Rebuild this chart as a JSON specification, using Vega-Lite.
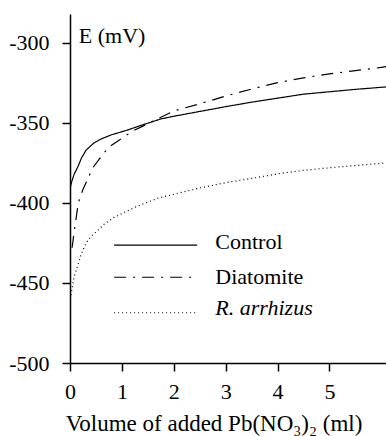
{
  "$schema": "https://vega.github.io/schema/vega-lite/v6.json",
  "width": 316,
  "height": 349,
  "autosize": {"type": "none"},
  "padding": {"left": 70, "top": 14, "right": 0, "bottom": 73},
  "background": "white",
  "config": {
    "view": {"stroke": null},
    "axis": {
      "domainColor": "black", "domainWidth": 1.5, "tickColor": "black", "tickWidth": 1.5,
      "labelFont": "Liberation Serif", "labelFontSize": 22, "labelColor": "black",
      "titleFont": "Liberation Serif", "titleFontSize": 23, "titleColor": "black", "titleFontWeight": "normal",
      "grid": false
    }
  },
  "datasets": {
    "curves": [
      {"series": "Control", "x": 0, "y": -391},
      {"series": "Control", "x": 0.03, "y": -387},
      {"series": "Control", "x": 0.08, "y": -382},
      {"series": "Control", "x": 0.15, "y": -377.5},
      {"series": "Control", "x": 0.22, "y": -372},
      {"series": "Control", "x": 0.31, "y": -367},
      {"series": "Control", "x": 0.46, "y": -362.5},
      {"series": "Control", "x": 0.6, "y": -360},
      {"series": "Control", "x": 0.79, "y": -357.5},
      {"series": "Control", "x": 1.1, "y": -354.5},
      {"series": "Control", "x": 1.37, "y": -351.5},
      {"series": "Control", "x": 1.75, "y": -347.5},
      {"series": "Control", "x": 2.0, "y": -345.8},
      {"series": "Control", "x": 2.5, "y": -342.8},
      {"series": "Control", "x": 3.0, "y": -339.8},
      {"series": "Control", "x": 3.5, "y": -337},
      {"series": "Control", "x": 4.0, "y": -334.5},
      {"series": "Control", "x": 4.5, "y": -332},
      {"series": "Control", "x": 5.0, "y": -330.5},
      {"series": "Control", "x": 5.5, "y": -329},
      {"series": "Control", "x": 6.0, "y": -327.7},
      {"series": "Control", "x": 6.09, "y": -327.5},
      {"series": "Diatomite", "x": 0.04, "y": -428},
      {"series": "Diatomite", "x": 0.08, "y": -418},
      {"series": "Diatomite", "x": 0.12, "y": -409},
      {"series": "Diatomite", "x": 0.16, "y": -400},
      {"series": "Diatomite", "x": 0.25, "y": -391.5},
      {"series": "Diatomite", "x": 0.44, "y": -378},
      {"series": "Diatomite", "x": 0.6, "y": -371},
      {"series": "Diatomite", "x": 0.75, "y": -365},
      {"series": "Diatomite", "x": 0.98, "y": -360},
      {"series": "Diatomite", "x": 1.21, "y": -355},
      {"series": "Diatomite", "x": 1.5, "y": -350.5},
      {"series": "Diatomite", "x": 2.0, "y": -342.5},
      {"series": "Diatomite", "x": 2.5, "y": -338},
      {"series": "Diatomite", "x": 3.0, "y": -333.2},
      {"series": "Diatomite", "x": 3.5, "y": -328.8},
      {"series": "Diatomite", "x": 4.0, "y": -324.8},
      {"series": "Diatomite", "x": 4.5, "y": -321.8},
      {"series": "Diatomite", "x": 5.0, "y": -319.3},
      {"series": "Diatomite", "x": 5.5, "y": -317.3},
      {"series": "Diatomite", "x": 6.0, "y": -315.3},
      {"series": "Diatomite", "x": 6.09, "y": -314.8},
      {"series": "R. arrhizus", "x": 0.0, "y": -460},
      {"series": "R. arrhizus", "x": 0.02, "y": -457.5},
      {"series": "R. arrhizus", "x": 0.08, "y": -446},
      {"series": "R. arrhizus", "x": 0.15, "y": -439},
      {"series": "R. arrhizus", "x": 0.21, "y": -432.5},
      {"series": "R. arrhizus", "x": 0.31, "y": -425},
      {"series": "R. arrhizus", "x": 0.4, "y": -421},
      {"series": "R. arrhizus", "x": 0.54, "y": -417},
      {"series": "R. arrhizus", "x": 0.65, "y": -413.5},
      {"series": "R. arrhizus", "x": 0.85, "y": -409},
      {"series": "R. arrhizus", "x": 1.1, "y": -405},
      {"series": "R. arrhizus", "x": 1.37, "y": -401},
      {"series": "R. arrhizus", "x": 1.7, "y": -397},
      {"series": "R. arrhizus", "x": 2.13, "y": -393.5},
      {"series": "R. arrhizus", "x": 2.52, "y": -390.5},
      {"series": "R. arrhizus", "x": 3.0, "y": -387.3},
      {"series": "R. arrhizus", "x": 3.5, "y": -384.6},
      {"series": "R. arrhizus", "x": 4.06, "y": -381.5},
      {"series": "R. arrhizus", "x": 4.5, "y": -379.6},
      {"series": "R. arrhizus", "x": 5.0, "y": -378},
      {"series": "R. arrhizus", "x": 5.5, "y": -376.6},
      {"series": "R. arrhizus", "x": 6.0, "y": -375.2},
      {"series": "R. arrhizus", "x": 6.09, "y": -374.9}
    ],
    "legend": [
      {"series": "Control", "x": 0.85, "y": -426.3},
      {"series": "Control", "x": 2.45, "y": -426.3},
      {"series": "Diatomite", "x": 0.85, "y": -446.4},
      {"series": "Diatomite", "x": 2.45, "y": -446.4},
      {"series": "R. arrhizus", "x": 0.85, "y": -468.6},
      {"series": "R. arrhizus", "x": 2.45, "y": -468.6}
    ],
    "labels": [
      {"label": "Control", "x": 2.8, "y": -428.8, "italic": false},
      {"label": "Diatomite", "x": 2.8, "y": -450.6, "italic": false},
      {"label": "R. arrhizus", "x": 2.8, "y": -470, "italic": true},
      {"label": "E (mV)", "x": 0.17, "y": -300, "italic": false}
    ]
  },
  "layer": [
    {
      "mark": {"type": "rule", "color": "black", "strokeWidth": 1.5},
      "encoding": {"y": {"datum": -281.9, "type": "quantitative"}}
    },
    {
      "data": {"name": "curves"},
      "mark": {"type": "line", "color": "black", "strokeWidth": 1.2, "clip": true},
      "encoding": {
        "x": {"field": "x", "type": "quantitative",
              "scale": {"domain": [0, 6.09], "nice": false, "zero": false},
              "axis": {"values": [0, 1, 2, 3, 4, 5], "tickSize": 8, "labelPadding": 10,
                       "title": "Volume of added Pb(NO₃)₂ (ml)", "titleX": 143.5, "titleY": 67,
                       "titleAlign": "center", "titleBaseline": "alphabetic", "labelFlush": false}},
        "y": {"field": "y", "type": "quantitative",
              "scale": {"domain": [-500, -281.9], "nice": false, "zero": false},
              "axis": {"values": [-500, -450, -400, -350, -300], "tickSize": 8, "labelPadding": 13,
                       "title": null, "labelExpr": "'-' + format(abs(datum.value), 'd')"}},
        "strokeDash": {"field": "series", "type": "nominal",
                       "scale": {"domain": ["Control", "Diatomite", "R. arrhizus"], "range": [[1, 0], [12, 7, 2, 7], [1, 3]]},
                       "legend": null},
        "detail": {"field": "series"}
      }
    },
    {
      "data": {"name": "legend"},
      "mark": {"type": "line", "color": "black", "strokeWidth": 1.2},
      "encoding": {
        "x": {"field": "x", "type": "quantitative"},
        "y": {"field": "y", "type": "quantitative"},
        "strokeDash": {"field": "series", "type": "nominal", "legend": null},
        "detail": {"field": "series"}
      }
    },
    {
      "data": {"name": "labels"},
      "transform": [{"filter": "!datum.italic"}],
      "mark": {"type": "text", "align": "left", "baseline": "alphabetic", "font": "Liberation Serif", "fontSize": 22, "color": "black"},
      "encoding": {
        "x": {"field": "x", "type": "quantitative"},
        "y": {"field": "y", "type": "quantitative"},
        "text": {"field": "label"}
      }
    },
    {
      "data": {"name": "labels"},
      "transform": [{"filter": "datum.italic"}],
      "mark": {"type": "text", "align": "left", "baseline": "alphabetic", "font": "Liberation Serif", "fontSize": 22, "fontStyle": "italic", "color": "black"},
      "encoding": {
        "x": {"field": "x", "type": "quantitative"},
        "y": {"field": "y", "type": "quantitative"},
        "text": {"field": "label"}
      }
    }
  ]
}
